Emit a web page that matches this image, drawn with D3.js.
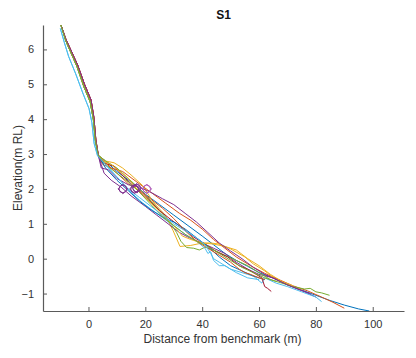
<!DOCTYPE html>
<html><head><meta charset="utf-8">
<script src="https://cdn.jsdelivr.net/npm/d3@7"></script>
<style>body{margin:0;background:#fff}text{font-family:"Liberation Sans",Arial,sans-serif}</style>
</head><body><svg id="c" width="416" height="358"></svg>
<script>
const title = "S1";
const xLabel = "Distance from benchmark (m)";
const yLabel = "Elevation(m RL)";
const xTicks = [0, 20, 40, 60, 80, 100];
const yTicks = [-1, 0, 1, 2, 3, 4, 5, 6];
const xDomain = [-16, 111];
const yDomain = [-1.5, 6.7];
const colors = ["#0072BD","#D95319","#EDB120","#7E2F8E","#77AC30","#4DBEEE","#A2142F"];

const head = [[-9.7,6.7],[-8,6.25],[-6.4,5.95],[-4,5.5],[-1.7,4.95],[0.6,4.5],[1.7,4.0],[2.4,3.4],[3.4,2.97]];
const headB = [[-9.6,6.68],[-7.9,6.28],[-6.2,5.98],[-3.8,5.55],[-1.4,5.0],[0.9,4.55],[1.9,4.05],[2.6,3.4],[3.5,2.95]];
const headC = [[-9.9,6.6],[-8.5,6.2],[-7,5.8],[-4.5,5.3],[-2,4.75],[0.2,4.3],[1.2,3.9],[2.0,3.3],[3.2,2.95]];

const profile1 = [[6,2.8],[10,2.5],[15,2.2],[20,1.85],[25,1.55],[30,1.25],[35,0.95],[40,0.65],[44,0.4],[48,0.15],[52,-0.05],[56,-0.22],[60,-0.4],[65,-0.55],[70,-0.75],[75,-0.9],[80,-1.05],[85,-1.2],[90,-1.33],[95,-1.44],[98.8,-1.5]];
const profile2 = [[5,2.7],[8,2.6],[12,2.5],[17,2.2],[22,1.9],[27,1.6],[32,1.3],[36,1.1],[40,0.85],[44,0.55],[48,0.3],[52,0.05],[57,-0.2],[62,-0.42],[67,-0.6],[72,-0.78],[77,-0.92],[82,-1.1],[86,-1.25],[90,-1.42]];
const profile3 = [[6,2.8],[9,2.75],[12,2.6],[15,2.4],[19,2.1],[23,1.6],[27,1.25],[29.8,0.8],[32.2,0.35],[36,0.38],[40,0.45],[43,0.45],[46,0.42],[50,0.28],[55,0.05],[58,-0.15],[62,-0.35],[66,-0.6],[70,-0.75],[75,-0.88]];
const profile4 = [[4.5,2.7],[5.5,2.45],[8,2.25],[11.5,2.05],[15,1.8],[20,1.5],[24,1.25],[28,1.0],[32,0.75],[36,0.58],[40,0.45],[44,0.3],[48,0.15],[52,-0.1],[56,-0.3],[60,-0.45],[65,-0.55],[70,-0.75],[76,-0.95],[80,-1.1]];
const profile5 = [[6,2.8],[10,2.6],[14,2.3],[18,2.0],[22,1.65],[26,1.3],[29,1.0],[31,0.75],[32.5,0.5],[34.5,0.32],[37,0.3],[39,0.25],[41,0.33],[44,0.25],[48,0.1],[52,-0.05],[56,-0.2],[60,-0.4],[64,-0.6],[68,-0.7],[72,-0.8],[76,-0.87],[78,-0.85],[80,-0.95],[82,-0.98],[84.8,-1.05]];
const profile6 = [[7,2.6],[11,2.25],[15,1.9],[19,1.6],[24,1.3],[29,1.0],[34,0.7],[38,0.5],[41,0.3],[42,0.15],[43,0.2],[44,-0.05],[46,-0.2],[48,-0.2],[50,-0.3],[54,-0.4],[58,-0.5],[61,-0.7],[62,-0.55],[66,-0.7],[70,-0.8],[75,-0.95],[80,-1.1],[82,-1.23]];
const profile7 = [[5,2.75],[9,2.65],[13,2.3],[17,2.0],[21,1.7],[25,1.38],[29,1.12],[33,0.88],[37,0.62],[41,0.42],[45,0.2],[49,0.05],[53,-0.2],[56,-0.3],[60,-0.5],[61,-0.55],[62,-0.8],[63,-0.85],[64.3,-0.94]];
const profile8 = [[6,2.6],[10,2.25],[14,1.95],[18,1.65],[22,1.4],[26,1.2],[30,1.05],[34,0.85],[38,0.6],[42,0.35],[46,0.05],[50,-0.2],[54,-0.35],[58,-0.5],[62,-0.6]];
const profile9 = [[6,2.75],[10,2.45],[14,2.15],[18,1.95],[22,1.7],[26,1.45],[30,1.15],[34,0.8],[38,0.5],[42,0.3],[46,0.1],[50,-0.1],[53,-0.3],[55,-0.4],[57,-0.45],[60,-0.55],[62,-0.6]];
const profile10 = [[5,2.8],[8,2.7],[11,2.5],[14,2.3],[18,1.9],[22,1.6],[26,1.25],[30,0.95],[33,0.65],[36,0.55],[40,0.45],[44,0.42],[48,0.35],[52,0.25],[56,0.0],[60,-0.2],[64,-0.45],[68,-0.65],[72,-0.78]];
const profile11 = [[4.5,2.6],[7,2.55],[10,2.3],[14,2.12],[18,2.05],[22,1.9],[26,1.72],[30,1.55],[34,1.3],[38,1.05],[42,0.75],[46,0.45],[50,0.22],[54,0.0],[58,-0.25],[62,-0.45],[66,-0.6],[70,-0.75],[74,-0.88],[78,-1.0]];
const profile12 = [[6,2.7],[10,2.45],[14,2.2],[18,1.9],[22,1.55],[26,1.2],[30,0.95],[34,0.7],[38,0.5],[42,0.35],[46,0.15],[50,-0.05],[54,-0.25],[58,-0.4],[62,-0.55],[66,-0.65]];
const profile13 = [[6,2.7],[10,2.35],[14,2.0],[18,1.75],[22,1.5],[26,1.25],[30,1.0],[34,0.8],[38,0.6],[41,0.4],[43,0.15],[44,0.0],[46,-0.1],[48,-0.2],[52,-0.4],[56,-0.55],[60,-0.6]];

const markerX = [12.1, 16.2, 17.0, 20.5];
const markerY = [2.0, 2.0, 2.02, 2.0];

const profiles = [
  {pts: head.concat(profile1), c: colors[0]},
  {pts: headB.concat(profile2), c: colors[1]},
  {pts: head.concat(profile3), c: colors[2]},
  {pts: headB.concat(profile4), c: colors[3]},
  {pts: head.concat(profile5), c: colors[4]},
  {pts: headC.concat(profile6), c: colors[5]},
  {pts: headB.concat(profile7), c: colors[6]},
  {pts: head.concat(profile8), c: colors[0]},
  {pts: headB.concat(profile9), c: colors[1]},
  {pts: head.concat(profile10), c: colors[2]},
  {pts: headB.concat(profile11), c: colors[3]},
  {pts: head.concat(profile12), c: colors[4]},
  {pts: headC.concat(profile13), c: colors[5]}
];

const L = 43, R = 404, T = 25, B = 311;
const x = d3.scaleLinear().domain(xDomain).range([L, R]);
const y = d3.scaleLinear().domain(yDomain).range([B, T]);
const svg = d3.select("#c");
const axCol = "#5a5a5a", txtCol = "#333";

const line = d3.line().x(d => x(d[0])).y(d => y(d[1]));
svg.append("g").selectAll("path").data(profiles).join("path")
  .attr("d", d => line(d.pts)).attr("fill", "none")
  .attr("stroke", d => d.c).attr("stroke-width", 1).attr("stroke-linejoin","round");

const mg = svg.append("g");
markerX.forEach((mx, i) => {
  const cx = x(mx), cy = y(markerY[i]);
  const col = i === 3 ? "#b05cb8" : "#7E2F8E";
  mg.append("circle").attr("cx", cx).attr("cy", cy).attr("r", 3.8)
    .attr("fill", "none").attr("stroke", col).attr("stroke-width", 1);
  mg.append("path").attr("d", d3.symbol(d3.symbolDiamond2, 60)())
    .attr("transform", `translate(${cx},${cy})`)
    .attr("fill", "none").attr("stroke", col).attr("stroke-width", 1);
});

const xAxis = d3.axisBottom(x).tickValues(xTicks).tickSizeInner(-4).tickSizeOuter(0).tickPadding(9);
const gx = svg.append("g").attr("transform", `translate(0,${B})`).call(xAxis);
const yAxis = d3.axisLeft(y).tickValues(yTicks).tickSizeInner(-4).tickSizeOuter(0).tickPadding(9);
const gy = svg.append("g").attr("transform", `translate(${L},0)`).call(yAxis);
[gx, gy].forEach(g => {
  g.select(".domain").attr("stroke", axCol).attr("stroke-width", 1.2);
  g.selectAll(".tick line").attr("stroke", axCol);
  g.selectAll(".tick text").attr("fill", txtCol).style("font-size", "11px");
});

svg.append("text").attr("x", (L + R) / 2).attr("y", 19).attr("text-anchor", "middle")
  .style("font-size", "12px").style("font-weight", "bold").attr("fill", "#111").text(title);
svg.append("text").attr("x", (L + R) / 2 - 1).attr("y", 343).attr("text-anchor", "middle")
  .style("font-size", "12px").attr("fill", txtCol).text(xLabel);
svg.append("text").attr("transform", `translate(22,${(T + B) / 2}) rotate(-90)`)
  .attr("text-anchor", "middle").style("font-size", "12px").attr("fill", txtCol).text(yLabel);
</script></body></html>
